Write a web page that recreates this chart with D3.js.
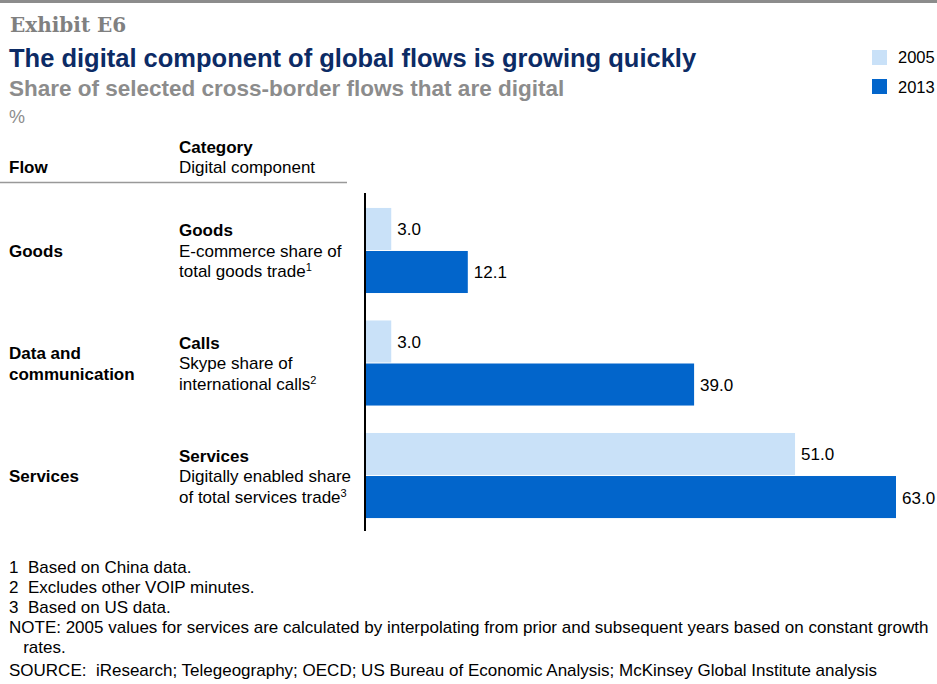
<!DOCTYPE html>
<html>
<head>
<meta charset="utf-8">
<script src="https://cdn.jsdelivr.net/npm/d3@7"></script>
<style>
  body { margin: 0; background: #fff; overflow: hidden; }
  svg { display: block; }
  svg text { font-family: Arial, "Liberation Sans", sans-serif; }
</style>
</head>
<body>
<div id="chart"></div>
<script>
// data
var flows = ['Goods', 'Data and communication', 'Services']
var flowLines = [['Goods'], ['Data and', 'communication'], ['Services']]
var categories = ['Goods', 'Calls', 'Services']
var components = [['E-commerce share of', 'total goods trade', '1'],
                  ['Skype share of', 'international calls', '2'],
                  ['Digitally enabled share', 'of total services trade', '3']]
var years = ['2005', '2013']
var values2005 = [3.0, 3.0, 51.0]
var values2013 = [12.1, 39.0, 63.0]
var footnotes = ['1  Based on China data.', '2  Excludes other VOIP minutes.', '3  Based on US data.',
                 'NOTE: 2005 values for services are calculated by interpolating from prior and subsequent years based on constant growth',
                 '   rates.',
                 'SOURCE:  iResearch; Telegeography; OECD; US Bureau of Economic Analysis; McKinsey Global Institute analysis']

var W = 937, H = 684
var fs = 17 // body font size
var cols = {'2005': '#C9E1F8', '2013': '#0265CB'}

var svg = d3.select('#chart').append('svg')
    .attr('width', W)
    .attr('height', H)

// top rule
svg.append('rect').attr('x', 0).attr('y', 0).attr('width', W).attr('height', 3).attr('fill', '#8c8c8c')

// headings
svg.append('text').attr('x', 10).attr('y', 32)
  .text('Exhibit E6')
  .style('font-family', '"DejaVu Serif", Georgia, serif')
  .attr('font-size', 20).attr('font-weight', 'bold').attr('fill', '#808080')

svg.append('text').attr('x', 9).attr('y', 67)
  .text('The digital component of global flows is growing quickly')
  .attr('font-size', 25.5).attr('font-weight', 'bold').attr('fill', '#0C2B65')

svg.append('text').attr('x', 9).attr('y', 96)
  .text('Share of selected cross-border flows that are digital')
  .attr('font-size', 22.5).attr('font-weight', 'bold').attr('fill', '#8c8c8c')

svg.append('text').attr('x', 9).attr('y', 123)
  .text('%').attr('font-size', 18).attr('fill', '#8c8c8c')

// legend
years.forEach(function(yr, i) {
  svg.append('rect').attr('x', 872).attr('y', 50 + i*29).attr('width', 15).attr('height', 15).attr('fill', cols[yr])
  svg.append('text').attr('x', 898).attr('y', 63 + i*30).text(yr).attr('font-size', 16.5).attr('fill', '#000')
})

// column headers
svg.append('text').attr('x', 9).attr('y', 173).text('Flow').attr('font-size', fs).attr('font-weight', 'bold')
svg.append('text').attr('x', 179).attr('y', 153).text('Category').attr('font-size', fs).attr('font-weight', 'bold')
svg.append('text').attr('x', 179).attr('y', 173).text('Digital component').attr('font-size', fs)
svg.append('line').attr('x1', 0).attr('x2', 347).attr('y1', 182.5).attr('y2', 182.5)
  .attr('stroke', '#999').attr('stroke-width', 1.5)

// scales
var x = d3.scaleLinear().domain([0, 63]).range([366, 896])
var y = d3.scaleBand().domain(flows).range([195, 532]).paddingInner(0.235).paddingOuter(0.115)
var yi = d3.scaleBand().domain(years).range([0, y.bandwidth()])

var rows = flows.map(function(f, i) {
  return {flow: f, lines: flowLines[i], cat: categories[i], comp: components[i],
          vals: [{yr: '2005', v: values2005[i]}, {yr: '2013', v: values2013[i]}]}
})

var g = svg.selectAll('.grp').data(rows).enter().append('g')
  .attr('transform', function(d) { return 'translate(0,' + y(d.flow) + ')' })

// bars
g.selectAll('rect').data(function(d) { return d.vals }).enter().append('rect')
  .attr('x', x(0))
  .attr('y', function(d) { return yi(d.yr) })
  .attr('width', function(d) { return x(d.v) - x(0) })
  .attr('height', yi.bandwidth() - 1)
  .attr('fill', function(d) { return cols[d.yr] })

// value labels
g.selectAll('.val').data(function(d) { return d.vals }).enter().append('text')
  .attr('x', function(d) { return x(d.v) + 6 })
  .attr('y', function(d) { return yi(d.yr) + yi.bandwidth()/2 + 6 })
  .text(function(d) { return d3.format('.1f')(d.v) })
  .attr('font-size', fs)

// row labels
var mid = y.bandwidth()/2
g.each(function(d) {
  var s = d3.select(this)
  var n = d.lines.length
  d.lines.forEach(function(l, k) {
    s.append('text').attr('x', 9).attr('y', mid + 6 - (n-1)*10.5 + k*21)
      .text(l).attr('font-size', fs).attr('font-weight', 'bold')
  })
  s.append('text').attr('x', 179).attr('y', mid - 14.5).text(d.cat).attr('font-size', fs).attr('font-weight', 'bold')
  s.append('text').attr('x', 179).attr('y', mid + 6).text(d.comp[0]).attr('font-size', fs)
  var t = s.append('text').attr('x', 179).attr('y', mid + 26.5).attr('font-size', fs)
  t.append('tspan').text(d.comp[1])
  t.append('tspan').text(d.comp[2]).attr('font-size', 11).attr('dy', -6)
})

// axis line
svg.append('line').attr('x1', x(0) - 1).attr('x2', x(0) - 1).attr('y1', 193).attr('y2', 531)
  .attr('stroke', '#000').attr('stroke-width', 2)

// footnotes
var fy = [573, 593, 613, 633, 653, 676]
footnotes.forEach(function(f, i) {
  svg.append('text').attr('x', 9).attr('y', fy[i]).text(f).attr('font-size', fs).attr('fill', '#000')
    .attr('xml:space', 'preserve').style('white-space', 'pre')
})
</script>
</body>
</html>
